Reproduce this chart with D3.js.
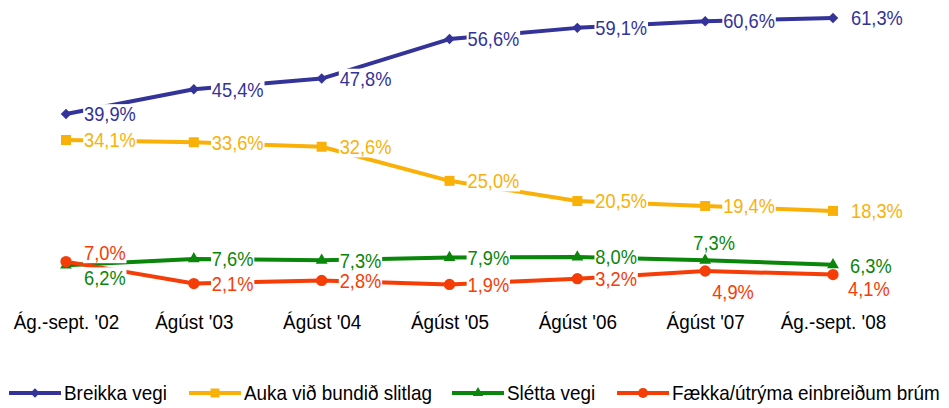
<!DOCTYPE html>
<html>
<head>
<meta charset="utf-8">
<script src="https://cdn.jsdelivr.net/npm/d3@7"></script>
<style>
  html, body { margin: 0; padding: 0; background: #fff; }
  svg { display: block; font-family: "Liberation Sans", Arial, sans-serif; }
</style>
</head>
<body>
<svg id="chart" width="949" height="408"></svg>
<script>
// ---- data ----
const categories = ["Ág.-sept. '02", "Ágúst '03", "Ágúst '04", "Ágúst '05", "Ágúst '06", "Ágúst '07", "Ág.-sept. '08"];
const seriesNames = ["Breikka vegi", "Auka við bundið slitlag", "Slétta vegi", "Fækka/útrýma einbreiðum brúm"];
const breikka = [39.9, 45.4, 47.8, 56.6, 59.1, 60.6, 61.3];
const auka = [34.1, 33.6, 32.6, 25.0, 20.5, 19.4, 18.3];
const sletta = [6.2, 7.6, 7.3, 7.9, 8.0, 7.3, 6.3];
const faekka = [7.0, 2.1, 2.8, 1.9, 3.2, 4.9, 4.1];

// ---- styles ----
const colors = ["#333399", "#F9B10A", "#0A860A", "#F53D08"];
const symbols = [d3.symbolDiamond2 || d3.symbolDiamond, d3.symbolSquare, d3.symbolTriangle, d3.symbolCircle];
const symSizes = [70, 100, 60, 100];
const series = [breikka, auka, sletta, faekka].map((v, i) => ({
  name: seriesNames[i], values: v, color: colors[i], symbol: symbols[i], size: symSizes[i]
}));

const svg = d3.select("#chart");
const x = d3.scalePoint().domain(categories).range([66, 833]);
const y = d3.scaleLinear().domain([0, d3.max([breikka, auka, sletta, faekka].flat())]).range([293, 18]);

const fmt = v => d3.format(".1f")(v).replace(".", ",") + "%";

// category axis
const axis = svg.append("g").attr("transform", "translate(0,312)")
  .call(d3.axisBottom(x).tickSize(0).tickPadding(0));
axis.select(".domain").remove();
axis.selectAll("text")
  .attr("dy", null).attr("y", 0)
  .attr("transform", "translate(0,17) scale(0.9,1)")
  .attr("fill", "#000")
  .style("font-size", "21px")
  .style("font-family", "'Liberation Sans', Arial, sans-serif");

// lines
const line = d3.line().x((d, i) => x(categories[i])).y(d => y(d));
series.forEach(s => {
  svg.append("path").datum(s.values)
    .attr("d", line).attr("fill", "none")
    .attr("stroke", s.color).attr("stroke-width", 4)
    .attr("stroke-linejoin", "round");
});

// markers
series.forEach(s => {
  svg.append("g").selectAll("path").data(s.values).join("path")
    .attr("d", d3.symbol().type(s.symbol).size(s.size))
    .attr("transform", (d, i) => `translate(${x(categories[i])},${y(d)})`)
    .attr("fill", s.color);
});

// label placement: offset from marker (dx = left edge of text, dy = vertical centre)
function labelOffset(si, i) {
  if (si === 3 && i === 0) return [18, -9, "start"];
  if (si === 2 && i === 0) return [18, 12, "start"];
  if (si === 2 && i === 5) return [9, -18, "middle"];
  if (si === 3 && i === 5) return [7, 21, "start"];
  if (si === 2 && i === 6) return [17, 1, "start"];
  if (si === 3 && i === 6) return [15, 14, "start"];
  return [18, 0, "start"];
}

const labelsG = svg.append("g");
series.forEach((s, si) => {
  s.values.forEach((v, i) => {
    const [dx, dy, anchor] = labelOffset(si, i);
    const g = labelsG.append("g")
      .attr("transform", `translate(${x(categories[i]) + dx},${y(v) + dy}) scale(0.87,1)`);
    const bg = g.append("rect").attr("fill", "#fff");
    const t = g.append("text")
      .attr("x", 0).attr("y", 0).attr("dy", "0.35em")
      .attr("text-anchor", anchor)
      .attr("fill", s.color)
      .style("font-size", "21px")
      .text(fmt(v));
    const bb = t.node().getBBox();
    bg.attr("x", bb.x - 1).attr("y", bb.y + 2).attr("width", bb.width + 2).attr("height", bb.height - 3);
  });
});

// legend
const legendX = [9, 189, 452, 617];
const legend = svg.append("g").attr("transform", "translate(0,393)");
series.forEach((s, i) => {
  const g = legend.append("g").attr("transform", `translate(${legendX[i]},0)`);
  g.append("line").attr("x1", 0).attr("x2", 52).attr("y1", 0).attr("y2", 0)
    .attr("stroke", s.color).attr("stroke-width", 4);
  g.append("path").attr("d", d3.symbol().type(s.symbol).size(s.size * 0.8))
    .attr("transform", "translate(26,0)").attr("fill", s.color);
  g.append("text").attr("transform", "translate(55,0) scale(0.9,1)")
    .attr("dy", "0.35em").attr("fill", "#000")
    .style("font-size", "21px")
    .text(s.name);
});
</script>
</body>
</html>
